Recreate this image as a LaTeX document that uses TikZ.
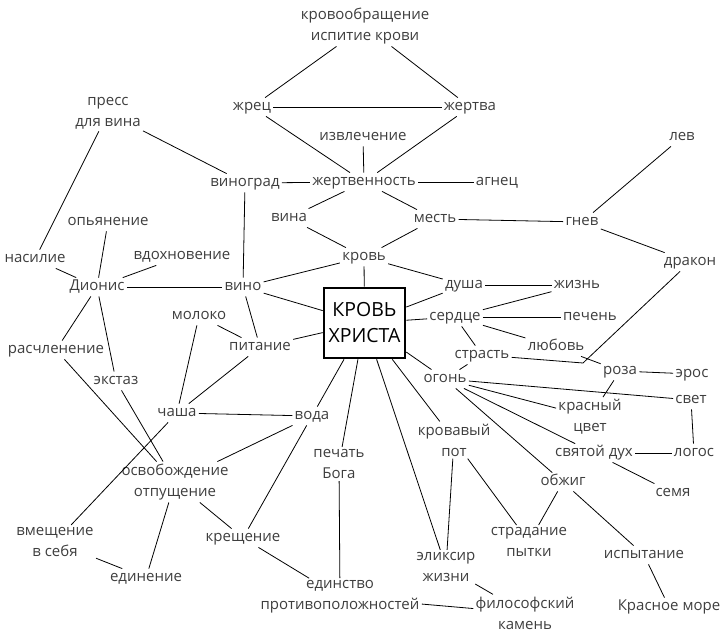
\documentclass[tikz,border=0pt]{standalone}
\usepackage{fontspec}
\setmainfont{Open Sans}
\usepackage{tikz}
\definecolor{inkgray}{HTML}{3E3E3E}
\tikzstyle{word}=[align=center,inner sep=2pt,text=inkgray,font=\fontsize{15}{21}\selectfont]
\tikzstyle{oneword}=[word,text height=10.5pt,text depth=3.5pt]
\tikzstyle{mainbox}=[draw,line width=2.6pt,fill=white,align=center,minimum width=81pt,minimum height=70pt,inner sep=3pt,font=\fontsize{19.5}{26}\selectfont]

\begin{document}
\begin{tikzpicture}[x=1pt,y=-1pt,line width=0.8pt]
    \useasboundingbox (0,0) rectangle (723,634);
    \node[word] (circ) at (365,26) {кровообращение\\испитие крови};
    \node[oneword] (zhrec) at (252,107) {жрец};
    \node[oneword] (zhertva) at (470,107) {жертва};
    \node[word] (press) at (108,113) {пресс\\для вина};
    \node[oneword] (izvl) at (363,137) {извлечение};
    \node[oneword] (vinograd) at (245,183) {виноград};
    \node[oneword] (zhertv) at (364,182) {жертвенность};
    \node[oneword] (agnec) at (497,182) {агнец};
    \node[oneword] (vina) at (289,218) {вина};
    \node[oneword] (mest) at (435,219) {месть};
    \node[oneword] (gnev) at (582,222) {гнев};
    \node[oneword] (lev) at (682,137) {лев};
    \node[oneword] (opian) at (108,222) {опьянение};
    \node[oneword] (vdohn) at (182,256) {вдохновение};
    \node[oneword] (nasil) at (35,259) {насилие};
    \node[oneword] (dionis) at (97,287) {Дионис};
    \node[oneword] (vino) at (243,287) {вино};
    \node[oneword] (krov) at (364,257) {кровь};
    \node[oneword] (drakon) at (690,262) {дракон};
    \node[oneword] (dusha) at (464,285) {душа};
    \node[oneword] (zhizn) at (577,285) {жизнь};
    \node[mainbox] (christ) at (364.5,323) {КРОВЬ\\ХРИСТА};
    \node[oneword] (serdce) at (455,317) {сердце};
    \node[oneword] (pechen) at (590,317) {печень};
    \node[oneword] (moloko) at (199,316) {молоко};
    \node[oneword] (pitanie) at (260,347) {питание};
    \node[oneword] (lubov) at (556,347) {любовь};
    \node[oneword] (strast) at (482,355) {страсть};
    \node[oneword] (rasch) at (56,350) {расчленение};
    \node[oneword] (roza) at (620,371) {роза};
    \node[oneword] (eros) at (692,374) {эрос};
    \node[oneword] (ogon) at (445,379) {огонь};
    \node[oneword] (svet) at (691,400) {свет};
    \node[oneword] (ekstaz) at (116,381) {экстаз};
    \node[oneword] (chasha) at (177,413) {чаша};
    \node[oneword] (voda) at (312,416) {вода};
    \node[word] (krasn) at (590,417) {красный\\цвет};
    \node[word] (krovav) at (454,440) {кровавый\\пот};
    \node[word] (pechat) at (339,464) {печать\\Бога};
    \node[oneword] (svdukh) at (594,453) {святой дух};
    \node[oneword] (logos) at (694,453) {логос};
    \node[word] (osvob) at (175,482) {освобождение\\отпущение};
    \node[oneword] (obzhig) at (563,482) {обжиг};
    \node[oneword] (semya) at (673,493) {семя};
    \node[word] (vmesch) at (55,542) {вмещение\\в себя};
    \node[oneword] (kreshch) at (243,538) {крещение};
    \node[word] (stradan) at (529,542) {страдание\\пытки};
    \node[oneword] (ispyt) at (644,555) {испытание};
    \node[word] (eliksir) at (446,567) {эликсир\\жизни};
    \node[oneword] (edinen) at (146,578) {единение};
    \node[word] (edinstvo) at (340,597) {единство\\противоположностей};
    \node[word] (filos) at (525,613) {философский\\камень};
    \node[oneword] (krmore) at (669,607) {Красное море};
    \coordinate (bend) at (583,363);

    \foreach \from/\to in {circ/zhrec,circ/zhertva,zhrec/zhertva,zhrec/zhertv,zhertva/zhertv,
        izvl/zhertv,vinograd/zhertv,zhertv/agnec,zhertv/vina,zhertv/mest,vina/krov,mest/krov,
        mest/gnev,gnev/lev,gnev/drakon,press/vinograd,press/nasil,vinograd/vino,vino/pitanie,
        dionis/vino,vino/krov,vino/christ,dionis/opian,dionis/vdohn,dionis/nasil,dionis/rasch,
        dionis/ekstaz,krov/christ,krov/dusha,dusha/christ,dusha/zhizn,serdce/christ,serdce/zhizn,
        serdce/pechen,serdce/lubov,serdce/strast,strast/ogon,lubov/roza,roza/eros,roza/krasn,
        ogon/christ,ogon/svet,ogon/krasn,ogon/svdukh,ogon/obzhig,svet/logos,svdukh/logos,
        svdukh/semya,obzhig/stradan,obzhig/ispyt,ispyt/krmore,krovav/christ,krovav/eliksir,
        krovav/stradan,christ/eliksir,eliksir/filos,edinstvo/filos,pechat/christ,pechat/edinstvo,
        voda/christ,voda/chasha,voda/osvob,voda/kreshch,pitanie/christ,pitanie/moloko,
        pitanie/chasha,moloko/chasha,chasha/vmesch,rasch/osvob,ekstaz/osvob,osvob/edinen,
        osvob/kreshch,vmesch/edinen,kreshch/edinstvo}
    \draw (\from) -- (\to);
    \draw (strast) -- (bend) -- (drakon);
\end{tikzpicture}
\end{document}
